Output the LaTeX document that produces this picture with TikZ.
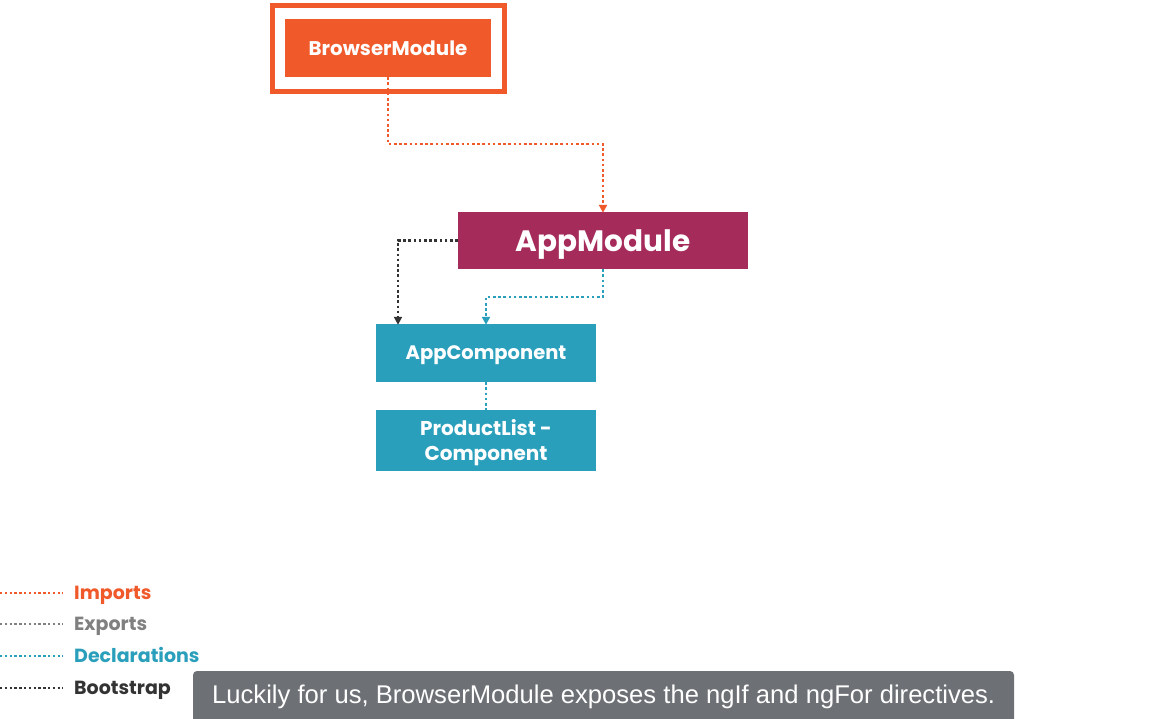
\documentclass[tikz,border=0pt]{standalone}
\usepackage{fontspec}
\setmainfont{Poppins}
\newfontfamily\capfont{Liberation Sans}
\usetikzlibrary{arrows.meta}
\definecolor{psorange}{HTML}{F05A2B}
\definecolor{psplum}{HTML}{A52B5B}
\definecolor{psteal}{HTML}{2A9FBC}
\definecolor{psdark}{HTML}{333333}
\definecolor{psgray}{HTML}{808080}
\definecolor{capgray}{HTML}{6D7075}
\tikzset{
  box/.style={draw=none, text=white, inner sep=0pt, align=center, font=\bfseries},
  dotline/.style={line width=2.8pt, dash pattern=on 2.6pt off 2.6pt},
  tip/.style={-{Triangle[length=8pt,width=8pt]}, shorten >=-1pt},
  legline/.style={line width=2.6pt, dash pattern=on 2.4pt off 2.4pt},
  legtext/.style={anchor=west, inner sep=0pt, text height=13.3pt, text depth=0pt, font=\fontsize{19}{22}\selectfont\bfseries},
}
\begin{document}
\begin{tikzpicture}[x=1pt,y=-1pt]
\useasboundingbox[fill=white] (0,0) rectangle (1170,718);
% BrowserModule
\draw[psorange, line width=5pt] (272.5,5.5) rectangle (504.5,91.5);
\node[box, fill=psorange, minimum width=206pt, minimum height=58pt] (bm) at (388,48) {};
\node[box, text height=13.9pt, text depth=0pt, font=\fontsize{19.8}{24}\selectfont\bfseries] (bmt) at (388,48.5) {BrowserModule};
% AppModule
\node[box, fill=psplum, minimum width=290pt, minimum height=57pt] (am) at (603,240.5) {};
\node[box, text height=20.6pt, text depth=0pt, font=\fontsize{29.5}{34}\selectfont\bfseries] (amt) at (603,241) {AppModule};
% AppComponent
\node[box, fill=psteal, minimum width=220pt, minimum height=58pt] (ac) at (486,353) {};
\node[box, text height=13.6pt, text depth=0pt, font=\fontsize{19.5}{24}\selectfont\bfseries] (act) at (486,353) {AppComponent};
% ProductList
\node[box, fill=psteal, minimum width=220pt, minimum height=61pt] (pl) at (486,440.5) {};
\node[box, font=\fontsize{20}{25}\selectfont\bfseries] (plt) at (486,443) {ProductList -\\Component};
% connectors
\coordinate (bx) at (398,240.5);
\draw[dotline, psorange, tip] (bm.south) -- (388,144) -- (603,144) -- (am.north);
\draw[dotline, psdark, tip] (am.west) -- (bx) -- (bx |- ac.north);
\draw[dotline, psteal, tip] (am.south) -- (603,297) -- (486,297) -- (ac.north);
\draw[dotline, psteal] (ac.south) -- (pl.north);
% legend
\coordinate (l1) at (0,593); \coordinate (l2) at (0,624);
\coordinate (l3) at (0,656); \coordinate (l4) at (0,688);
\node[legtext, text=psorange] (t1) at (74,593) {Imports};
\node[legtext, text=psgray] (t2) at (74,624) {Exports};
\node[legtext, text=psteal] (t3) at (74,656) {Declarations};
\node[legtext, text=psdark] (t4) at (74,688) {Bootstrap};
\draw[legline, psorange] (l1) -- (63,593);
\draw[legline, psgray] (l2) -- (63,624);
\draw[legline, psteal] (l3) -- (63,656);
\draw[legline, psdark] (l4) -- (63,688);
% caption
\fill[capgray, rounded corners=4pt] (193,671) rectangle (1014,728);
\node[text=white, inner sep=0pt, anchor=west, text height=17.5pt, text depth=0pt] (cap) at (212,695) {\resizebox{783pt}{!}{\capfont\fontsize{24}{28}\selectfont Luckily for us, BrowserModule exposes the ngIf and ngFor directives.}};
\end{tikzpicture}
\end{document}
